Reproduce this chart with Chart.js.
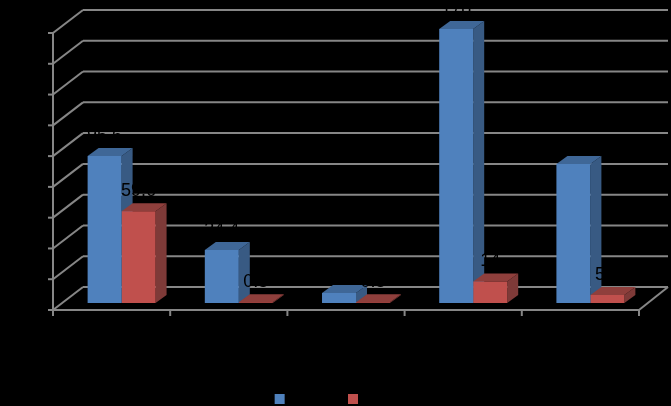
<!DOCTYPE html>
<html>
<head>
<meta charset="utf-8">
<style>
  html, body { margin: 0; padding: 0; background: #000; overflow: hidden; }
  canvas { display: block; }
</style>
<script src="https://cdn.jsdelivr.net/npm/chart.js@4"></script>
</head>
<body>
<canvas id="chart" width="671" height="406"></canvas>
<script>
// category and series names are black on black in the picture, so they stay blank.
// the legend spacing comes from the width of the blank names.
const categories = ['', '', '', '', ''];
const seriesNames = ['                ', '                      '];
const blueValues = [95.6, 34.4, 6.5, 178, 90.3];
const redValues = [59.6, 0.5, 0.5, 14, 5.2];
const yTicks = [0, 20, 40, 60, 80, 100, 120, 140, 160, 180];

const GRID = '#868686';
const faces = [
  { front: '#4F81BD', side: '#385A83', top: '#3F6797' },
  { front: '#C0504D', side: '#7E3A38', top: '#8F3F3C' },
];

function line(ctx, x1, y1, x2, y2) {
  ctx.beginPath();
  ctx.moveTo(x1, y1);
  ctx.lineTo(x2, y2);
  ctx.stroke();
}

function poly(ctx, pts, color) {
  ctx.fillStyle = color;
  ctx.beginPath();
  pts.forEach((p, i) => (i ? ctx.lineTo(p[0], p[1]) : ctx.moveTo(p[0], p[1])));
  ctx.closePath();
  ctx.fill();
}

// bars stand in the middle of the floor, walls are offset from that plane
const walls = {
  id: 'walls',
  beforeDatasetsDraw(chart) {
    const { ctx, scales: { x, y } } = chart;
    const step = x.width / categories.length;
    const left = x.left - 10, right = x.right - 10;
    ctx.save();
    ctx.strokeStyle = GRID;
    ctx.lineWidth = 2;
    yTicks.forEach(t => {
      const py = y.getPixelForValue(t);
      line(ctx, left, py + 7, left + 30, py - 16);
      line(ctx, left + 30, py - 16, right + 29, py - 16);
      line(ctx, left - 5, py + 7, left, py + 7);
    });
    const floor = y.getPixelForValue(0) + 7;
    line(ctx, left, y.getPixelForValue(180) + 7, left, floor + 6);
    line(ctx, left, floor, right, floor);
    line(ctx, right, floor, right + 29, floor - 23);
    categories.forEach((c, i) => {
      line(ctx, left + (i + 1) * step, floor, left + (i + 1) * step, floor + 6);
    });
    // side and top faces go first, so the red front covers the blue side
    chart.data.datasets.forEach((ds, i) => {
      chart.getDatasetMeta(i).data.forEach(bar => {
        const l = bar.x - bar.width / 2, r = bar.x + bar.width / 2;
        poly(ctx, [[r, bar.y], [r + 11, bar.y - 8], [r + 11, bar.base - 8], [r, bar.base]], faces[i].side);
        poly(ctx, [[l, bar.y], [l + 11, bar.y - 8], [r + 11, bar.y - 8], [r, bar.y]], faces[i].top);
      });
    });
    ctx.restore();
  },
  afterDatasetsDraw(chart) {
    const { ctx } = chart;
    ctx.save();
    ctx.fillStyle = '#000';
    ctx.font = '18px "Liberation Sans"';
    ctx.textAlign = 'center';
    ctx.textBaseline = 'middle';
    chart.data.datasets.forEach((ds, i) => {
      chart.getDatasetMeta(i).data.forEach((bar, j) => {
        ctx.fillText(String(ds.data[j]), bar.x, bar.y - 20);
      });
    });
    ctx.restore();
  },
};

new Chart(document.getElementById('chart').getContext('2d'), {
  type: 'bar',
  data: {
    labels: categories,
    datasets: [
      { label: seriesNames[0], data: blueValues, backgroundColor: faces[0].front },
      { label: seriesNames[1], data: redValues, backgroundColor: faces[1].front },
    ],
  },
  options: {
    responsive: false,
    animation: false,
    layout: { padding: { left: 63, right: 22, top: 26, bottom: -9 } },
    datasets: { bar: { barPercentage: 1, categoryPercentage: 0.58 } },
    scales: {
      x: {
        grid: { display: false },
        border: { display: false },
        ticks: { display: false },
        afterFit(scale) { scale.height = 86; },
      },
      y: {
        display: false,
        min: 0,
        max: 180,
      },
    },
    plugins: {
      tooltip: { enabled: false },
      legend: {
        position: 'bottom',
        labels: { boxWidth: 10, boxHeight: 10, padding: 4, color: '#000', font: { size: 12 } },
      },
    },
  },
  plugins: [walls],
});
</script>
</body>
</html>
